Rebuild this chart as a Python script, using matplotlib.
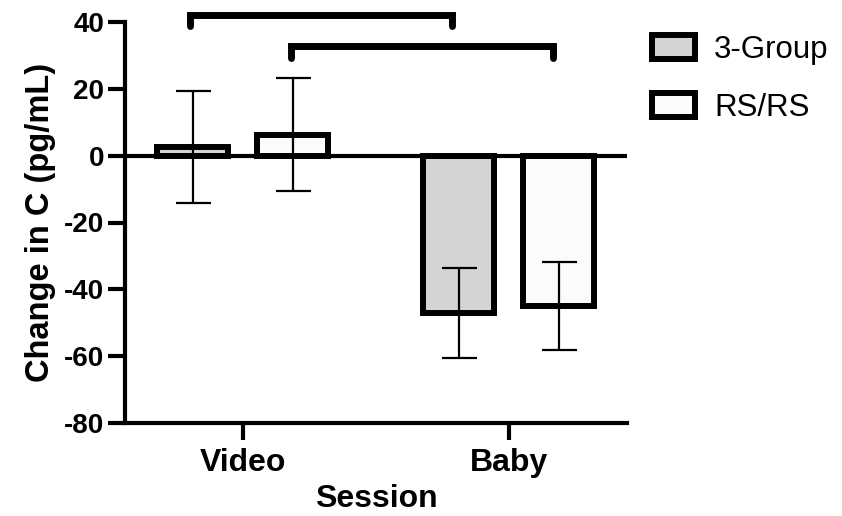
import matplotlib
matplotlib.use("Agg")
import matplotlib.pyplot as plt
from matplotlib.patches import Patch
import numpy as np

sessions = ["Video", "Baby"]
groups = ["3-Group", "RS/RS"]
means = {"3-Group": [2.5, -47.0], "RS/RS": [6.3, -45.0]}
errs = {"3-Group": [16.8, 13.4], "RS/RS": [17.0, 13.2]}
colors = {"3-Group": "#d4d4d4", "RS/RS": "#fbfbfb"}
# brackets: (x_left, x_right, y_top, y_tick_end)
brackets = [(-0.197, 0.788, 42.2, 38.8), (0.182, 1.167, 32.7, 29.3)]

plt.rcParams['font.family'] = ['Liberation Sans', 'DejaVu Sans']
plt.rcParams['axes.unicode_minus'] = False

fig = plt.figure(figsize=(8.42, 5.16), dpi=100)
ax = fig.add_axes([125/842, 1-423/516, (627-125)/842, (423-22)/516])

x = np.arange(len(sessions))
width = 0.267
offsets = [-0.188, 0.188]
for g, off in zip(groups, offsets):
    ax.bar(x + off, means[g], width, color=colors[g], edgecolor='black', linewidth=4.3, zorder=2)
    ax.errorbar(x + off, means[g], yerr=errs[g], fmt='none', ecolor='black',
                elinewidth=1.6, capsize=12.6, capthick=1.6, zorder=3)

ax.axhline(0, color='black', linewidth=3, zorder=4)

for xl, xr, yt, yb in brackets:
    ax.plot([xl, xl, xr, xr], [yb, yt, yt, yb], color='black', linewidth=5,
            solid_capstyle='round', solid_joinstyle='miter', clip_on=False, zorder=5)

ax.set_xlim(-0.442, 1.445)
ax.set_ylim(-80, 40)
ax.set_yticks(np.arange(-80, 41, 20))
ax.set_xticks(x)
ax.set_xticklabels(sessions)
for s in ['top', 'right']:
    ax.spines[s].set_visible(False)
for s in ['left', 'bottom']:
    ax.spines[s].set_linewidth(3)
ax.tick_params(axis='both', width=3, length=12)
ax.tick_params(axis='y', labelsize=20, pad=3)
ax.tick_params(axis='x', labelsize=23, pad=6)
for lab in ax.get_xticklabels() + ax.get_yticklabels():
    lab.set_fontweight('bold')
ax.set_xlabel("Session", fontsize=23, fontweight='bold', labelpad=4)
ax.set_ylabel("Change in C (pg/mL)", fontsize=23.5, fontweight='bold', labelpad=6)

handles = [Patch(facecolor=colors[g], edgecolor='black', linewidth=4.3, label=g) for g in groups]
leg = fig.legend(handles=handles, loc='upper left', bbox_to_anchor=(652/842, 1-35/516),
                 frameon=False, fontsize=22.5, handlelength=1.39, handleheight=0.82,
                 handletextpad=0.6, labelspacing=0.88, borderaxespad=0, borderpad=0)

fig.savefig("out.png", dpi=100)
